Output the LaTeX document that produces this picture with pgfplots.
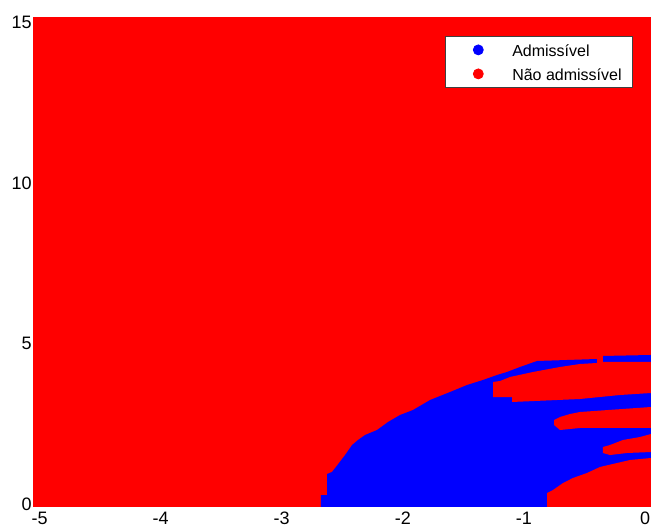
\documentclass[border=0pt]{standalone}
\usepackage{fontspec}
\setmainfont{Liberation Sans}
\usepackage{pgfplots}
\pgfplotsset{compat=1.18}
\begin{document}
\begin{tikzpicture}
\begin{axis}[
  scale only axis, width=463.5pt, height=367.5pt,
  xmin=-5.054, xmax=0.0495, ymin=-0.093, ymax=15.17,
  axis line style={draw=none},
  major tick length=0pt,
  xtick={-5,-4,-3,-2,-1,0}, xticklabels={-5,-4,-3,-2,-1,0},
  ytick={0,5,10,15}, yticklabels={0,5,10,15},
  tick label style={font=\fontsize{13.5}{16}\selectfont},
  yticklabel style={inner xsep=0.75pt},
  legend cell align=left,
  legend image code/.code={\path[draw=none,fill=none] (0pt,-7.5pt) rectangle (44.25pt,10.5pt); \draw[#1] plot coordinates {(21.75pt,1.5pt)};},
  legend style={at={(0.971,0.962)}, anchor=north east, draw=black!75, line width=0.6pt,
    fill=white, font=\fontsize{12}{14}\selectfont, inner xsep=3pt, inner ysep=1.4pt,
    nodes={inner xsep=3pt, inner ysep=0pt}, row sep=0pt},
]
\addlegendimage{only marks, mark=*, mark size=3.75pt, blue}
\addlegendentry{Admissível}
\addlegendimage{only marks, mark=*, mark size=3.75pt, red}
\addlegendentry{Não admissível\hspace*{2.25pt}}
% background: not admissible
\addplot[fill=red, draw=none, forget plot] coordinates {(-5.054,-0.093) (0.0495,-0.093) (0.0495,15.17) (-5.054,15.17)};
% admissible region
\addplot[fill=blue, draw=none, forget plot] coordinates {
(-2.676,-0.093) (-2.676,0.280) (-2.626,0.280) (-2.626,0.935) (-2.585,0.997) (-2.527,1.277)
(-2.477,1.526) (-2.419,1.838) (-2.370,1.994) (-2.312,2.150) (-2.213,2.305) (-2.122,2.555)
(-2.023,2.773) (-1.916,2.928) (-1.775,3.240) (-1.610,3.489) (-1.470,3.707) (-1.338,3.863)
(-1.222,4.019) (-1.140,4.112) (-1.032,4.268) (-0.892,4.455) (-0.396,4.517) (-0.347,4.611)
(0.0495,4.642) (0.0495,-0.093)};
% red finger 1 (with gap in top band)
\addplot[fill=red, draw=none, forget plot] coordinates {
(-1.255,3.801) (-1.197,3.832) (-1.115,3.956) (-0.925,4.112) (-0.702,4.268) (-0.537,4.361)
(-0.396,4.393) (-0.396,4.642) (-0.347,4.642) (-0.347,4.424) (0.0495,4.424) (0.0495,3.458)
(-0.206,3.396) (-0.537,3.271) (-1.098,3.178) (-1.098,3.333) (-1.255,3.333)};
% red finger 2
\addplot[fill=red, draw=none, forget plot] coordinates {
(-0.751,2.617) (-0.702,2.710) (-0.619,2.804) (-0.537,2.866) (0.0495,3.022) (0.0495,2.368)
(-0.537,2.368) (-0.702,2.305) (-0.751,2.461)};
% red finger 3
\addplot[fill=red, draw=none, forget plot] coordinates {
(-0.347,1.776) (-0.289,1.838) (-0.182,1.994) (-0.041,2.087) (0.0495,2.181) (0.0495,1.620)
(-0.149,1.589) (-0.289,1.526) (-0.347,1.589)};
% red bottom-right region
\addplot[fill=red, draw=none, forget plot] coordinates {
(-0.809,-0.093) (-0.809,0.343) (-0.760,0.436) (-0.677,0.654) (-0.595,0.810) (-0.479,0.966)
(-0.372,1.153) (-0.231,1.277) (-0.124,1.371) (0.0495,1.433) (0.0495,-0.093)};
\end{axis}
\pgfresetboundingbox
\path[use as bounding box] ([shift={(-24.75pt,-18.75pt)}]current axis.south west) rectangle ([shift={(0pt,12.75pt)}]current axis.north east);
\end{tikzpicture}
\end{document}
